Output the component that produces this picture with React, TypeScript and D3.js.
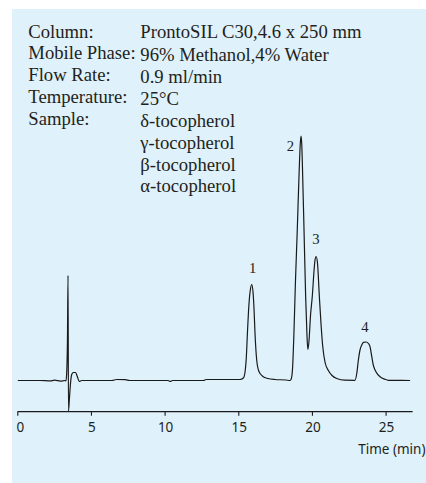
import React from "react";
import * as d3 from "d3";

// ---- data ----
const headerLabels = ["Column:", "Mobile Phase:", "Flow Rate:", "Temperature:", "Sample:"];
const headerValues = [
  "ProntoSIL C30,4.6 x 250 mm",
  "96% Methanol,4% Water",
  "0.9 ml/min",
  "25°C",
  "δ-tocopherol",
  "γ-tocopherol",
  "β-tocopherol",
  "α-tocopherol",
];

// retention time (min) and detector signal (arbitrary units)
const traceTime = [
  0, 1.5, 2.2, 2.5, 2.9, 3.2, 3.27, 3.32, 3.37, 3.41, 3.44, 3.5, 3.56, 3.66, 3.77, 3.92, 4.04, 4.17, 4.34,
  6.4, 6.7, 7.3, 7.6, 10.2, 10.35, 10.5, 12.6, 12.8,
  15.08, 15.31, 15.42, 15.52, 15.58, 15.7, 15.8, 15.88, 15.97, 16.04, 16.1, 16.22, 16.37, 16.64, 16.98, 17.46,
  18.2, 18.48, 18.57, 18.65, 18.75, 18.85, 18.97, 19.09, 19.18, 19.23, 19.28, 19.32, 19.43, 19.54, 19.63, 19.69,
  19.77, 19.87, 19.99, 20.11, 20.18, 20.25, 20.34, 20.47, 20.59, 20.7, 20.86, 21.08, 21.33, 21.65, 22.2,
  22.89, 23.01, 23.12, 23.23, 23.35, 23.46, 23.64, 23.8, 23.91, 24.03, 24.13, 24.25, 24.47, 24.59, 24.93, 25.15, 26.63,
];
const traceSignal = [
  0, 0, -0.4, 0.3, -0.6, 0, -0.5, 8, 40, 105, -30.5, -19, -6, 6, 8, 8, 4, -1, 0,
  0, 1, 0.8, 0, 0, -1, 0, 0, 1,
  1, 2.5, 8, 25, 45, 78, 92, 96, 88, 70, 48, 20, 9, 4, 2, 1,
  0.5, 0, 2, 12, 50, 100, 150, 205, 238, 244.5, 235, 215, 150, 84, 45, 31,
  40, 65, 84, 110, 121, 124, 118, 84, 55, 34, 18, 10, 5, 2, 0.3,
  0.2, 7, 20.5, 30.5, 35.5, 38.2, 38.5, 37, 33.8, 23.8, 15.5, 10.5, 5.5, 3.8, 1.2, 0.2, 0,
];

const peakLabels = ["1", "2", "3", "4"];
const peakLabelTime = [15.95, 18.5, 20.24, 23.57];
const peakLabelSignal = [107.8, 229.8, 136.2, 48.8];

const xTicks = [0, 5, 10, 15, 20, 25];
const xAxisTitle = "Time (min)";

export default function App() {
  const W = 426;
  const H = 483;
  const x = d3.scaleLinear().domain([0, 26.8]).range([17.8, 412.6]);
  const y = d3.scaleLinear().domain([0, 250]).range([380.5, 130.5]);
  const axisY = 411.7;

  const pts = traceTime.map((t, i) => [t, traceSignal[i]] as [number, number]);
  const lineGen = d3
    .line<[number, number]>()
    .x((d) => x(d[0]))
    .y((d) => y(d[1]))
    .curve(d3.curveMonotoneX);
  const path = lineGen(pts) || "";

  const serif = "'Liberation Serif', 'Times New Roman', serif";
  const sans = "'Noto Sans', 'Open Sans', sans-serif";
  const textColor = "#231f20";

  return (
    <svg
      width={W}
      height={H}
      style={{ position: "absolute", left: 0, top: 0, display: "block" }}
    >
      <rect x={0} y={0} width={W} height={H} fill="#ffffff" />
      <rect x={12} y={9} width={W - 12} height={H - 9} fill="#dff1fa" />

      {headerLabels.map((l, i) => (
        <text
          key={"l" + i}
          x={28.3}
          y={37.5 + i * 21.75}
          fontFamily={serif}
          fontSize={18.67}
          fill={textColor}
        >
          {l}
        </text>
      ))}
      {headerValues.map((v, i) => (
        <text
          key={"v" + i}
          x={140.3}
          y={i === 0 ? 37.6 : 38.7 + i * 21.97}
          fontFamily={serif}
          fontSize={18.67}
          fill={textColor}
        >
          {v}
        </text>
      ))}

      <path d={path} fill="none" stroke="#1a1a1a" strokeWidth={1.2} strokeLinejoin="round" />

      {peakLabels.map((p, i) => (
        <text
          key={"p" + i}
          x={x(peakLabelTime[i])}
          y={y(peakLabelSignal[i])}
          textAnchor="middle"
          fontFamily={serif}
          fontSize={14.7}
          fill={textColor}
        >
          {p}
        </text>
      ))}

      <line x1={x(0) - 0.3} x2={x(26.8)} y1={axisY} y2={axisY} stroke="#1a1a1a" strokeWidth={1.2} />
      {xTicks.map((t) => (
        <g key={"t" + t}>
          <line x1={x(t)} x2={x(t)} y1={axisY} y2={axisY + 4} stroke="#1a1a1a" strokeWidth={1.1} />
          <text
            x={x(t) + (t === 0 ? 2.5 : 0.5)}
            y={431.5}
            textAnchor="middle"
            fontFamily={sans}
            fontSize={13.5}
            fill={textColor}
          >
            {t}
          </text>
        </g>
      ))}
      <text x={425.5} y={454} textAnchor="end" fontFamily={sans} fontSize={13.5} fill={textColor}>
        {xAxisTitle}
      </text>
    </svg>
  );
}
